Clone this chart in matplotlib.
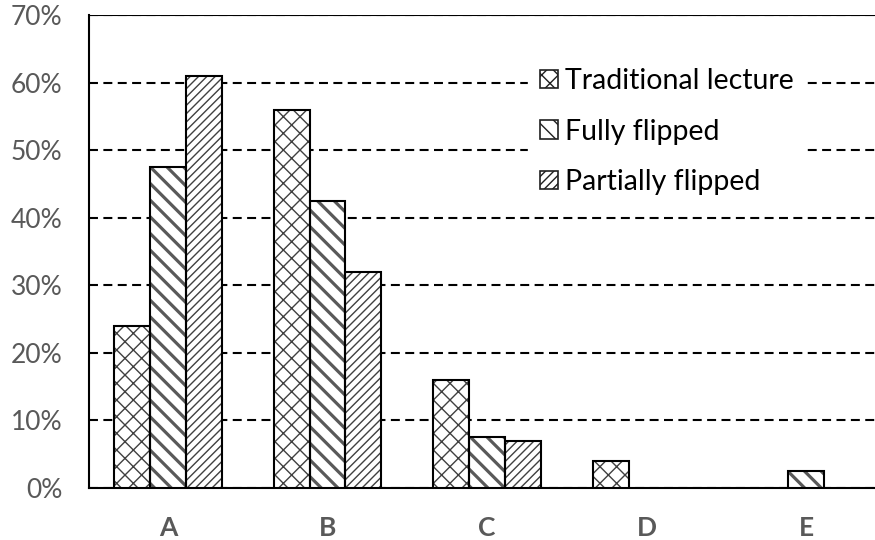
import numpy as np
import matplotlib
matplotlib.use("Agg")
import matplotlib.pyplot as plt
from matplotlib.ticker import PercentFormatter

categories = ["A", "B", "C", "D", "E"]
series_names = ["Traditional lecture", "Fully flipped", "Partially flipped"]
traditional = [24, 56, 16, 4, 0]
fully = [47.5, 42.5, 7.5, 0, 2.5]
partially = [61, 32, 7, 0, 0]
y_ticks = [0, 10, 20, 30, 40, 50, 60, 70]

series = [traditional, fully, partially]
hatches = ["xx", "\\\\", "////"]
hatch_colors = ["#404040", "#595959", "#404040"]
hatch_widths = [1.0, 2.3, 1.0]

plt.rcParams["font.family"] = ["Lato", "DejaVu Sans"]

fig = plt.figure(figsize=(8.75, 5.4), dpi=100)
ax = fig.add_axes([89 / 875, 52 / 540, 786 / 875, 473 / 540])

x = np.arange(len(categories))
w = 0.225
handles = []
for i, vals in enumerate(series):
    pos = x + (i - 1) * w
    with plt.rc_context({"hatch.linewidth": hatch_widths[i]}):
        ax.bar(pos, vals, w, color="white", edgecolor=hatch_colors[i],
               hatch=hatches[i], linewidth=0, zorder=3)
        # outlines only where a bar exists
        mask = np.array(vals) > 0
        ax.bar(pos[mask], np.array(vals)[mask], w, fill=False,
               edgecolor="black", linewidth=1.5, zorder=4)
    with plt.rc_context({"hatch.linewidth": 1.0}):
        h = ax.bar([np.nan], [np.nan], w, color="white", edgecolor="#202020",
                   hatch=hatches[i], linewidth=1.2, label=series_names[i])
    handles.append(h)

ax.set_xlim(-0.494, 4.43)
ax.set_ylim(0, 70)
ax.set_yticks(y_ticks)
ax.yaxis.set_major_formatter(PercentFormatter(decimals=0))
ax.yaxis.grid(True, linestyle=(0, (4.3, 2.6)), color="black", linewidth=1.5, zorder=0)
ax.axhline(70, color="black", linewidth=1.5, zorder=1)
ax.set_xticks(x)
ax.set_xticklabels(categories, fontweight="bold")

for s in ["top", "right"]:
    ax.spines[s].set_visible(False)
ax.spines["left"].set_linewidth(1.5)
ax.spines["bottom"].set_linewidth(1.5)
ax.tick_params(axis="both", length=0, colors="#595959", labelsize=19)
ax.tick_params(axis="y", pad=19)
ax.tick_params(axis="x", pad=20)

leg = ax.legend(handles=handles, loc="upper left", bbox_to_anchor=(0.54, 0.945),
                frameon=True, fancybox=False, edgecolor="white", framealpha=1,
                fontsize=20.5, handlelength=0.6, handleheight=0.6,
                handletextpad=0.25, labelspacing=0.86, borderpad=0.45)
leg.set_zorder(5)
for t in leg.get_texts():
    t.set_color("black")

fig.savefig("out.png", dpi=100)
